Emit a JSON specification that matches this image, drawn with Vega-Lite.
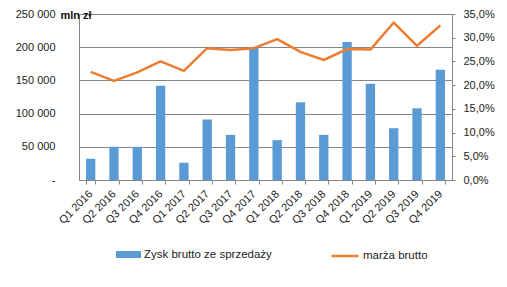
{
  "$schema": "https://vega.github.io/schema/vega-lite/v6.json",
  "width": 373,
  "height": 166,
  "autosize": {"type": "none"},
  "padding": {"left": 79, "top": 14, "right": 55, "bottom": 107},
  "background": "white",
  "config": {
    "view": {"stroke": null},
    "font": "Liberation Sans",
    "axis": {
      "labelFont": "Liberation Sans",
      "labelFontSize": 11,
      "labelColor": "#222222",
      "domainColor": "#868686",
      "tickColor": "#868686",
      "gridColor": "#868686",
      "domainWidth": 1,
      "gridWidth": 1
    },
    "legend": {
      "labelFont": "Liberation Sans",
      "labelFontSize": 11.5,
      "labelColor": "#222222",
      "padding": 0
    }
  },
  "data": {
    "values": [
      {"q": "Q1 2016", "zysk": 32000, "marza": 0.228},
      {"q": "Q2 2016", "zysk": 50000, "marza": 0.209},
      {"q": "Q3 2016", "zysk": 50000, "marza": 0.227},
      {"q": "Q4 2016", "zysk": 142000, "marza": 0.250},
      {"q": "Q1 2017", "zysk": 26000, "marza": 0.230},
      {"q": "Q2 2017", "zysk": 91000, "marza": 0.278},
      {"q": "Q3 2017", "zysk": 68000, "marza": 0.274},
      {"q": "Q4 2017", "zysk": 199000, "marza": 0.278},
      {"q": "Q1 2018", "zysk": 60000, "marza": 0.297},
      {"q": "Q2 2018", "zysk": 117000, "marza": 0.270},
      {"q": "Q3 2018", "zysk": 68000, "marza": 0.253},
      {"q": "Q4 2018", "zysk": 208000, "marza": 0.276},
      {"q": "Q1 2019", "zysk": 145000, "marza": 0.275},
      {"q": "Q2 2019", "zysk": 78000, "marza": 0.332},
      {"q": "Q3 2019", "zysk": 108000, "marza": 0.283},
      {"q": "Q4 2019", "zysk": 166000, "marza": 0.326}
    ]
  },
  "encoding": {
    "x": {
      "field": "q",
      "type": "nominal",
      "sort": null,
      "scale": {"paddingInner": 0.6, "paddingOuter": 0.3},
      "axis": {
        "title": null,
        "labelAngle": -45,
        "labelAlign": "right",
        "labelBaseline": "middle",
        "labelPadding": 8,
        "tickSize": 4,
        "tickBand": "extent",
        "grid": false
      }
    }
  },
  "layer": [
    {
      "mark": {"type": "bar", "color": "#5B9BD5"},
      "encoding": {
        "y": {
          "field": "zysk",
          "type": "quantitative",
          "scale": {"domain": [0, 250000], "nice": false},
          "axis": {
            "orient": "left",
            "values": [0, 50000, 100000, 150000, 200000, 250000],
            "grid": true,
            "ticks": false,
            "labelPadding": 24,
            "labelExpr": "datum.value == 0 ? '-\u00a0\u00a0' : replace(format(datum.value, ','), regexp(',', 'g'), '\u00a0')",
            "title": "mln zł",
            "titleAngle": 0,
            "titleX": -19,
            "titleY": 4,
            "titleAlign": "left",
            "titleBaseline": "alphabetic",
            "titleFont": "Liberation Sans",
            "titleFontSize": 11,
            "titleFontWeight": "bold",
            "titleColor": "#111111"
          }
        },
        "fill": {
          "datum": "Zysk brutto ze sprzedaży",
          "scale": {"range": ["#5B9BD5"]},
          "legend": {
            "title": null,
            "orient": "none",
            "legendX": 37,
            "legendY": 228,
            "symbolType": "M-1,-0.28h2v0.56h-2z",
            "symbolSize": 625,
            "symbolStrokeWidth": 0,
            "labelOffset": 3
          }
        }
      }
    },
    {
      "mark": {"type": "line", "color": "#ED7D31", "strokeWidth": 2.5, "strokeJoin": "round"},
      "encoding": {
        "y": {
          "field": "marza",
          "type": "quantitative",
          "scale": {"domain": [0, 0.35], "nice": false},
          "axis": {
            "orient": "right",
            "values": [0, 0.05, 0.1, 0.15, 0.2, 0.25, 0.3, 0.35],
            "grid": false,
            "tickSize": 3,
            "labelPadding": 8,
            "labelExpr": "replace(format(datum.value, '.1%'), '.', ',')",
            "title": null
          }
        },
        "stroke": {
          "datum": "marża brutto",
          "scale": {"range": ["#ED7D31"]},
          "legend": {
            "title": null,
            "orient": "none",
            "legendX": 251,
            "legendY": 227,
            "symbolType": "stroke",
            "symbolSize": 729,
            "symbolStrokeWidth": 2.5,
            "labelOffset": 3
          }
        }
      }
    }
  ],
  "resolve": {"scale": {"y": "independent", "fill": "independent", "stroke": "independent"}}
}
